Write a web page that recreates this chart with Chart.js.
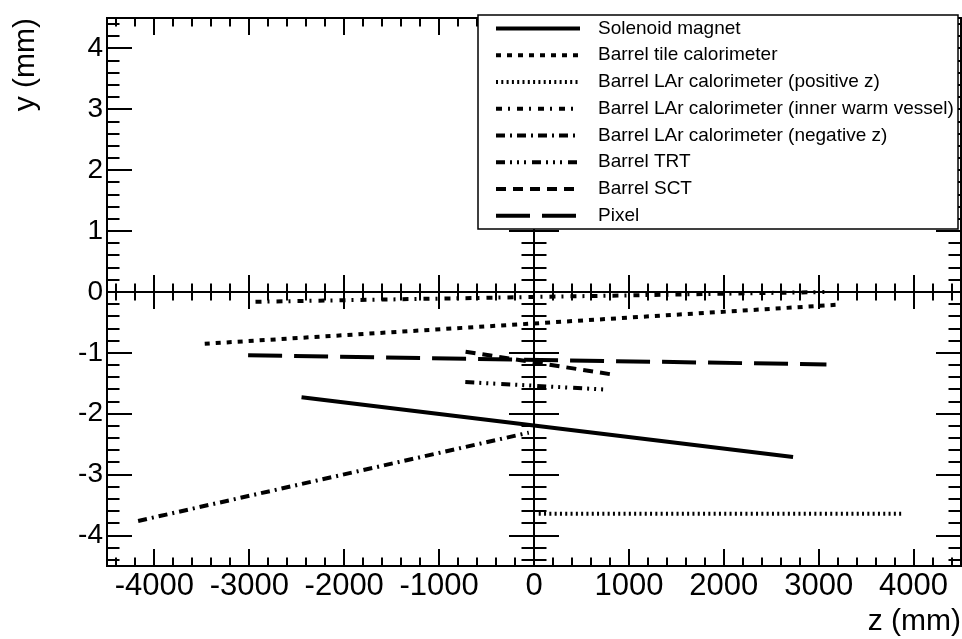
<!DOCTYPE html>
<html>
<head>
<meta charset="utf-8">
<script src="https://cdn.jsdelivr.net/npm/chart.js@4.4.1/dist/chart.umd.min.js"></script>
<style>
  html, body { margin: 0; padding: 0; background: #fff; }
  canvas { display: block; }
</style>
</head>
<body>
<canvas id="chart" width="962" height="639"></canvas>
<script>
// end points of each outline, z and y in mm
const seriesNames = [
    'Solenoid magnet',
    'Barrel tile calorimeter',
    'Barrel LAr calorimeter (positive z)',
    'Barrel LAr calorimeter (inner warm vessel)',
    'Barrel LAr calorimeter (negative z)',
    'Barrel TRT',
    'Barrel SCT',
    'Pixel'
];
const solenoidZ = [-2450, 2730];
const solenoidY = [-1.73, -2.71];
const tileZ = [-3470, 3190];
const tileY = [-0.85, -0.21];
const larPosZ = [50, 3900];
const larPosY = [-3.64, -3.64];
const larVesselZ = [-2935, 3060];
const larVesselY = [-0.16, 0.0];
const larNegZ = [-4172, -55];
const larNegY = [-3.76, -2.31];
const trtZ = [-724, 735];
const trtY = [-1.48, -1.60];
const sctZ = [-721, 805];
const sctY = [-0.98, -1.35];
const pixelZ = [-3013, 3082];
const pixelY = [-1.04, -1.19];

const xTicks = [-4000, -3000, -2000, -1000, 0, 1000, 2000, 3000, 4000];
const yTicks = [-4, -3, -2, -1, 0, 1, 2, 3, 4];

const FONT = '"Liberation Sans", Arial, Helvetica, sans-serif';

// ROOT-like line styles
const dashes = [
    [],
    [5, 6],
    [2, 3.3],
    [6, 6, 2, 7],
    [9, 5, 2, 5],
    [9, 5, 2, 5, 2, 5, 2, 6],
    [10, 7],
    [34, 12]
];

const zs = [solenoidZ, tileZ, larPosZ, larVesselZ, larNegZ, trtZ, sctZ, pixelZ];
const ys = [solenoidY, tileY, larPosY, larVesselY, larNegY, trtY, sctY, pixelY];

const datasets = seriesNames.map((name, i) => ({
    label: name,
    data: zs[i].map((z, k) => ({ x: z, y: ys[i][k] })),
    showLine: true,
    borderColor: '#000',
    borderWidth: 4,
    borderDash: dashes[i],
    borderCapStyle: 'butt',
    pointRadius: 0,
    fill: false
}));

// frame, ticks on every side and the two axes through the origin
const frameAxes = {
    id: 'frameAxes',
    afterDatasetsDraw(chart) {
        const { ctx, chartArea: a, scales: { x, y } } = chart;
        const x0 = x.getPixelForValue(0);
        const y0 = y.getPixelForValue(0);
        ctx.save();
        ctx.strokeStyle = '#000';
        ctx.lineWidth = 2;
        ctx.beginPath();
        ctx.rect(a.left, a.top, a.right - a.left, a.bottom - a.top);
        ctx.moveTo(a.left, y0); ctx.lineTo(a.right, y0);
        ctx.moveTo(x0, a.top); ctx.lineTo(x0, a.bottom);

        for (let i = -22; i <= 22; i++) {
            const px = Math.round(x.getPixelForValue(i * 200));
            const len = i % 5 === 0 ? 17 : 8.5;
            ctx.moveTo(px, a.bottom); ctx.lineTo(px, a.bottom - len);
            ctx.moveTo(px, a.top); ctx.lineTo(px, a.top + len);
            ctx.moveTo(px, y0 - len); ctx.lineTo(px, y0 + len);
        }
        for (let i = -22; i <= 22; i++) {
            const py = Math.round(y.getPixelForValue(i * 0.2));
            const len = i % 5 === 0 ? 25 : 12.5;
            ctx.moveTo(a.left, py); ctx.lineTo(a.left + len, py);
            ctx.moveTo(a.right, py); ctx.lineTo(a.right - len, py);
            ctx.moveTo(x0 - len, py); ctx.lineTo(x0 + len, py);
        }
        ctx.stroke();
        ctx.restore();
    }
};

const boxLegend = {
    id: 'boxLegend',
    afterDraw(chart) {
        const ctx = chart.ctx;
        const left = 478, top = 15, right = 958, bottom = 229;
        const sets = chart.data.datasets;
        const rowH = (bottom - top) / sets.length;
        ctx.save();
        ctx.fillStyle = '#fff';
        ctx.fillRect(left, top, right - left, bottom - top);
        ctx.strokeStyle = '#000';
        ctx.lineWidth = 1.5;
        ctx.strokeRect(left, top, right - left, bottom - top);
        ctx.font = '19px ' + FONT;
        ctx.textBaseline = 'middle';
        ctx.fillStyle = '#000';
        sets.forEach((ds, i) => {
            const cy = top + rowH * (i + 0.5);
            ctx.lineWidth = ds.borderWidth;
            ctx.lineCap = 'butt';
            ctx.setLineDash(ds.borderDash);
            ctx.beginPath();
            ctx.moveTo(496, cy);
            ctx.lineTo(580, cy);
            ctx.stroke();
            ctx.setLineDash([]);
            ctx.fillText(ds.label, 598, cy);
        });
        ctx.restore();
    }
};

new Chart(document.getElementById('chart'), {
    type: 'scatter',
    data: { datasets },
    options: {
        responsive: false,
        animation: false,
        devicePixelRatio: 1,
        layout: { padding: { top: 15, right: 1, left: 0, bottom: 0 } },
        plugins: {
            legend: { display: false },
            tooltip: { enabled: false }
        },
        scales: {
            x: {
                type: 'linear',
                min: -4500,
                max: 4500,
                afterBuildTicks: s => { s.ticks = xTicks.map(v => ({ value: v })); },
                afterFit: s => { s.height = 73; },
                grid: { display: false, drawTicks: false },
                border: { display: false },
                ticks: {
                    color: '#000',
                    padding: 5,
                    maxRotation: 0,
                    autoSkip: false,
                    callback: v => String(v),
                    font: { family: FONT, size: 31, lineHeight: 1 }
                },
                title: {
                    display: true,
                    text: 'z (mm)',
                    align: 'end',
                    color: '#000',
                    padding: { top: 0, bottom: 2 },
                    font: { family: FONT, size: 30, lineHeight: 1 }
                }
            },
            y: {
                type: 'linear',
                min: -4.5,
                max: 4.5,
                afterBuildTicks: s => { s.ticks = yTicks.map(v => ({ value: v })); },
                afterFit: s => { s.width = 107; },
                grid: { display: false, drawTicks: false },
                border: { display: false },
                ticks: {
                    color: '#000',
                    padding: 4,
                    autoSkip: false,
                    callback: v => String(v),
                    font: { family: FONT, size: 28, lineHeight: 1 }
                },
                title: {
                    display: true,
                    text: 'y (mm)',
                    align: 'end',
                    color: '#000',
                    padding: { top: 11, bottom: 0 },
                    font: { family: FONT, size: 30, lineHeight: 1 }
                }
            }
        }
    },
    plugins: [frameAxes, boxLegend]
});
</script>
</body>
</html>
